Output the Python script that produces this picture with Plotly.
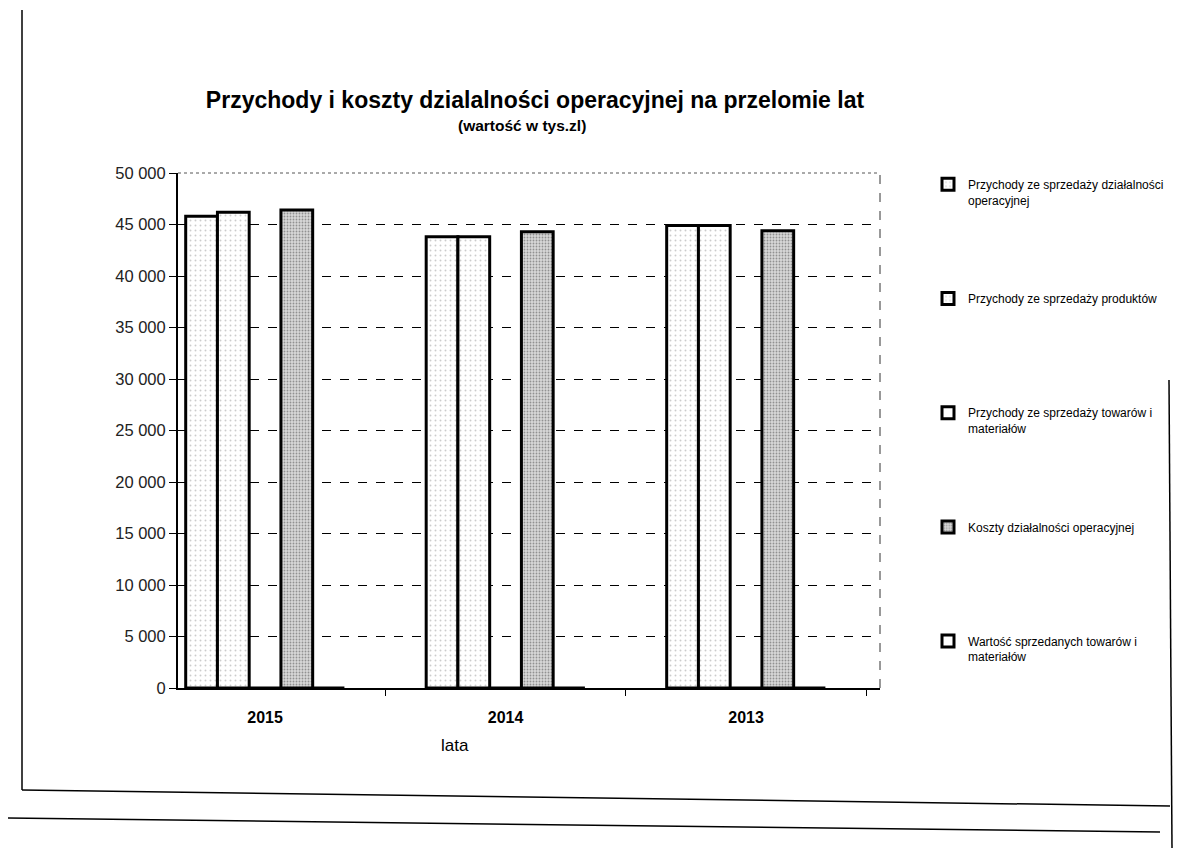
import plotly.graph_objects as go

years = ["2015", "2014", "2013"]
przychody_dzialalnosc = [45800, 43800, 44900]
przychody_produkty = [46200, 43800, 44900]
przychody_towary = [0, 0, 0]
koszty = [46400, 44300, 44400]
wartosc_towarow = [0, 0, 0]

series_names = [
    "Przychody ze sprzedaży działalności<br>operacyjnej",
    "Przychody ze sprzedaży produktów<br> ",
    "Przychody ze sprzedaży towarów i<br>materiałów",
    "Koszty działalności operacyjnej<br> ",
    "Wartość sprzedanych towarów i<br>materiałów",
]
series_values = [przychody_dzialalnosc, przychody_produkty, przychody_towary, koszty, wartosc_towarow]
patterns = [
    dict(shape=".", fgcolor="#9a9a9a", bgcolor="white", size=5, solidity=0.12),
    dict(shape=".", fgcolor="#9a9a9a", bgcolor="white", size=5, solidity=0.12),
    dict(shape="", bgcolor="white"),
    dict(shape=".", fgcolor="#4a4a4a", bgcolor="#d8d8d8", size=3, solidity=0.3),
    dict(shape="", bgcolor="white"),
]

FONT = "Liberation Sans, Arial, sans-serif"
OFF = 8  # page body margin
W, H = 1200 - OFF, 848 - OFF
L, R, T, B = 178, 880, 173, 688


def px(x, y):
    return (x - L) / (R - L), (B - y) / (B - T)


fig = go.Figure()
for i, (name, vals) in enumerate(zip(series_names, series_values)):
    fig.add_trace(go.Bar(
        x=years, y=vals, name=name, legendgroup=f"g{i}",
        marker=dict(color="white", pattern=patterns[i], line=dict(color="black", width=3)),
    ))

shapes = []
shapes.append(dict(type="line", xref="paper", yref="paper", x0=0, x1=1, y0=1, y1=1,
                   line=dict(color="#555", width=1, dash="dot")))
shapes.append(dict(type="line", xref="paper", yref="paper", x0=1, x1=1, y0=0, y1=1,
                   line=dict(color="#333", width=1, dash="dash")))
frame_lines = [
    ((22, 10), (22, 790)),
    ((22, 790), (1170, 806)),
    ((1169, 380), (1172, 848)),
    ((0, 818), (1160, 832)),
]
for (a, b) in frame_lines:
    x0, y0 = px(*a)
    x1, y1 = px(*b)
    shapes.append(dict(type="line", xref="paper", yref="paper", x0=x0, y0=y0, x1=x1, y1=y1,
                       line=dict(color="black", width=1.5)))

lx, ly = px(455, 745)
sx, sy = px(522, 125)

fig.update_layout(
    width=W, height=H,
    margin=dict(l=L - OFF, r=1200 - R, t=T - OFF, b=848 - B),
    paper_bgcolor="white", plot_bgcolor="white",
    font=dict(family=FONT, color="black"),
    separators=", ",
    barmode="group", bargap=0.34, bargroupgap=0,
    title=dict(text="<b>Przychody i koszty dzialalności operacyjnej na przelomie lat</b>",
               x=(535 - OFF) / W, xanchor="center", y=1 - (100 - OFF) / H, yanchor="middle",
               font=dict(size=23, family=FONT, color="black")),
    annotations=[
        dict(text="<b>(wartość w tys.zl)</b>", xref="paper", yref="paper", x=sx, y=sy,
             xanchor="center", yanchor="middle",
             showarrow=False, font=dict(size=15.5, family=FONT)),
        dict(text="lata", xref="paper", yref="paper", x=lx, y=ly, showarrow=False,
             xanchor="center", yanchor="middle",
             font=dict(size=17, family=FONT)),
    ],
    shapes=shapes,
    showlegend=True,
    legend=dict(xref="container", yref="container", x=(928 - OFF) / W, y=1 - (170 - OFF) / H,
                xanchor="left", yanchor="top", valign="top", tracegroupgap=80,
                traceorder="grouped", font=dict(size=12, family=FONT, color="black"),
                bgcolor="rgba(0,0,0,0)", maxheight=700),
    xaxis=dict(type="category", range=[-0.362, 2.557], showline=True, linecolor="black",
               linewidth=2, ticks="outside", tickson="boundaries", ticklen=6,
               tickcolor="black", ticklabelstandoff=14,
               tickfont=dict(size=16, family=FONT, color="black", weight="bold"),
               showgrid=False),
    yaxis=dict(range=[0, 50000], dtick=5000, tickformat=",d", showline=True,
               linecolor="black", linewidth=2, ticks="outside", ticklen=7,
               tickcolor="black", showgrid=True, gridcolor="black", griddash="dash",
               gridwidth=1, zeroline=False,
               tickfont=dict(size=16.5, family=FONT, color="#222")),
)

fig.write_html("out.html")
